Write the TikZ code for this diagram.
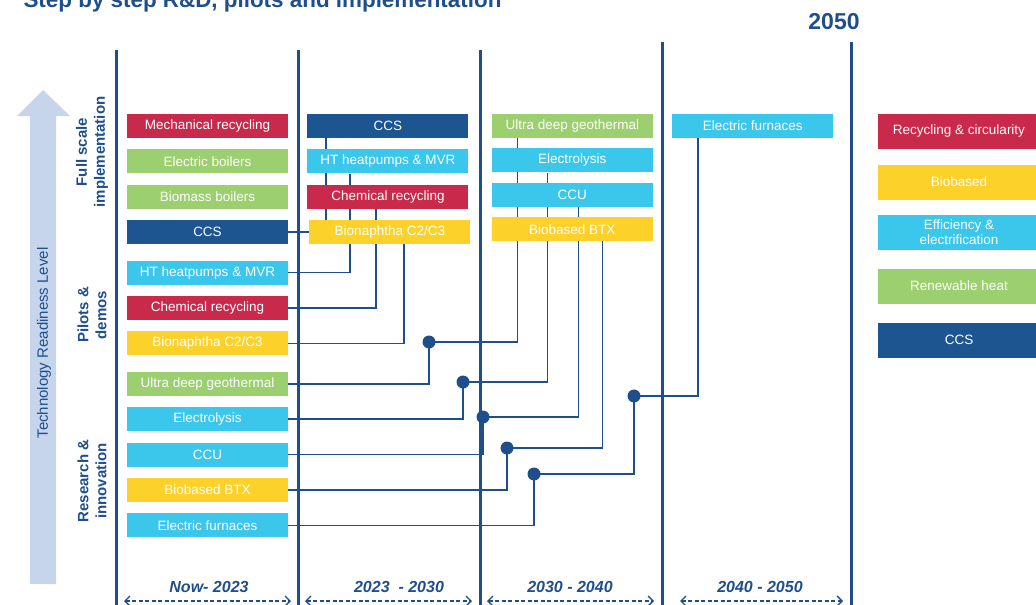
\documentclass[tikz,border=0pt]{standalone}
\usepackage{fontspec}
\setmainfont{Liberation Sans}
\usepackage{tikz}
\usetikzlibrary{positioning,arrows.meta,backgrounds}

\definecolor{deepblue}{HTML}{1F4E8C}
\definecolor{recred}{HTML}{C9294A}
\definecolor{bioyel}{HTML}{FCD12A}
\definecolor{eleccyan}{HTML}{3BC6EC}
\definecolor{heatgreen}{HTML}{9BCF6F}
\definecolor{ccsblue}{HTML}{1C5590}
\definecolor{trlblue}{HTML}{C6D5EC}

\begin{document}
\begin{tikzpicture}[x = 1pt, y = -1pt,
    every node/.style = { align = center },
    tech/.style = { text = white, inner sep = 0pt, minimum width = 161pt, minimum height = 24pt, font = \fontsize{13.5}{15}\selectfont },
    keybox/.style = { tech, minimum width = 162pt, minimum height = 35pt },
    recyc/.style = { fill = recred },
    bio/.style = { fill = bioyel },
    elec/.style = { fill = eleccyan },
    heat/.style = { fill = heatgreen },
    ccs/.style = { fill = ccsblue },
    divider/.style = { draw = deepblue, line width = 3pt },
    link/.style = { draw = deepblue, line width = 1.6pt },
    dot/.style = { circle, fill = deepblue, inner sep = 0pt, minimum size = 13pt },
    phase/.style = { text = deepblue, font = \fontsize{16}{18}\selectfont\bfseries\itshape },
    span/.style = { draw = deepblue, line width = 1.4pt, dash pattern = on 4pt off 2.5pt, >={Straight Barb[length = 5pt, width = 10pt]}, <-> },
    stage/.style = { text = deepblue, rotate = 90, font = \fontsize{15}{18}\selectfont\bfseries }
  ]
  \useasboundingbox (0,0) rectangle (1036,605);

  % heading
  \node [anchor = base west, text = deepblue, font = \fontsize{22.4}{26}\selectfont\bfseries] (title) at (20,8) {Step by step R\&D, pilots and implementation};
  \node [text = deepblue, font = \fontsize{23}{26}\selectfont\bfseries] (endyear) at (834,22) {2050};

  % readiness arrow
  \fill [trlblue] (30,584) -- (30,116) -- (17,116) -- (43,90) -- (70,116) -- (56,116) -- (56,584) -- cycle;
  \node [rotate = 90, text = deepblue, font = \fontsize{15}{18}\selectfont] (trl) at (44,343) {Technology Readiness Level};
  \node [stage] (full) at (92,152) {Full scale\\implementation};
  \node [stage] (pilot) at (92,315) {Pilots \&\\demos};
  \node [stage] (research) at (92,481) {Research \&\\innovation};

  % period dividers
  \coordinate (t1) at (116,50);  \coordinate (b1) at (116,606);
  \coordinate (t2) at (298,50);  \coordinate (b2) at (298,606);
  \coordinate (t3) at (480,50);  \coordinate (b3) at (480,606);
  \coordinate (t4) at (662,42);  \coordinate (b4) at (662,606);
  \coordinate (t5) at (851,42);  \coordinate (b5) at (851,606);
  \draw [divider] (t1) -- (b1);
  \draw [divider] (t2) -- (b2);
  \draw [divider] (t3) -- (b3);
  \draw [divider] (t4) -- (b4);
  \draw [divider] (t5) -- (b5);

  % now - 2023
  \node [tech, recyc] (mech1) at (207.5,126) {Mechanical recycling};
  \node [tech, heat, below = 11pt of mech1] (eboil1) {Electric boilers};
  \node [tech, heat, below = 11pt of eboil1] (bboil1) {Biomass boilers};
  \node [tech, ccs, below = 11pt of bboil1] (ccs1) {CCS};
  \node [tech, elec, below = 16pt of ccs1] (heat1) {HT heatpumps \& MVR};
  \node [tech, recyc, below = 11pt of heat1] (chem1) {Chemical recycling};
  \node [tech, bio, below = 11pt of chem1] (naph1) {Bionaphtha C2/C3};
  \node [tech, heat, below = 16pt of naph1] (geo1) {Ultra deep geothermal};
  \node [tech, elec, below = 11pt of geo1] (ely1) {Electrolysis};
  \node [tech, elec, below = 11pt of ely1] (ccu1) {CCU};
  \node [tech, bio, below = 11pt of ccu1] (btx1) {Biobased BTX};
  \node [tech, elec, below = 11pt of btx1] (furn1) {Electric furnaces};

  % 2023 - 2030
  \node [tech, ccs, right = 19pt of mech1] (ccs2) {CCS};
  \node [tech, elec, right = 19pt of eboil1] (heat2) {HT heatpumps \& MVR};
  \node [tech, recyc, right = 19pt of bboil1] (chem2) {Chemical recycling};
  \node [tech, bio, right = 21pt of ccs1] (naph2) {Bionaphtha C2/C3};

  % 2030 - 2040
  \node [tech, heat, right = 23pt of ccs2] (geo3) {Ultra deep geothermal};
  \node [tech, elec, below = 10pt of geo3] (ely3) {Electrolysis};
  \node [tech, elec, below = 10pt of ely3] (ccu3) {CCU};
  \node [tech, bio, below = 10pt of ccu3] (btx3) {Biobased BTX};

  % 2040 - 2050
  \node [tech, elec, right = 19pt of geo3] (furn4) {Electric furnaces};

  % junctions
  \node [dot] (j1) at (429,342) {};
  \node [dot] (j2) at (463,382) {};
  \node [dot] (j3) at (483,417) {};
  \node [dot] (j4) at (507,448) {};
  \node [dot] (j5) at (534,474) {};
  \node [dot] (j6) at (634,396) {};

  \begin{pgfonlayer}{background}
    \draw [link] (ccs1.east) -| ([xshift = 19pt]ccs2.south west);
    \draw [link] (heat1.east) -| ([xshift = 43pt]heat2.south west);
    \draw [link] (chem1.east) -| ([xshift = 69pt]chem2.south west);
    \draw [link] (naph1.east) -| ([xshift = 95pt]naph2.south west);
    \draw [link] (geo1.east) -| (j1.center) -| ([xshift = 26pt]geo3.south west);
    \draw [link] (ely1.east) -| (j2.center) -| ([xshift = 56pt]ely3.south west);
    \draw [link] (ccu1.east) -| (j3.center) -| ([xshift = 87pt]ccu3.south west);
    \draw [link] (btx1.east) -| (j4.center) -| ([xshift = 111pt]btx3.south west);
    \draw [link] (furn1.east) -| (j5.center) -| (j6.center) -| ([xshift = 26pt]furn4.south west);
  \end{pgfonlayer}

  % legend
  \node [keybox, recyc] (key1) at (959,131) {Recycling \& circularity};
  \node [keybox, bio] (key2) at (959,182) {Biobased};
  \node [keybox, elec] (key3) at (959,232) {Efficiency \&\\electrification};
  \node [keybox, heat] (key4) at (959,286) {Renewable heat};
  \node [keybox, ccs] (key5) at (959,340) {CCS};

  % periods
  \node [phase] (ph1) at (209,587) {Now- 2023};
  \node [phase] (ph2) at (399,587) {2023~ - 2030};
  \node [phase] (ph3) at (570,587) {2030 - 2040};
  \node [phase] (ph4) at (760,587) {2040 - 2050};
  \draw [span] ([shift = {(8,-5)}]b1) -- ([shift = {(-7,-5)}]b2);
  \draw [span] ([shift = {(7,-5)}]b2) -- ([shift = {(-8,-5)}]b3);
  \draw [span] ([shift = {(7,-5)}]b3) -- ([shift = {(-8,-5)}]b4);
  \draw [span] ([shift = {(18,-5)}]b4) -- ([shift = {(-8,-5)}]b5);
\end{tikzpicture}
\end{document}
